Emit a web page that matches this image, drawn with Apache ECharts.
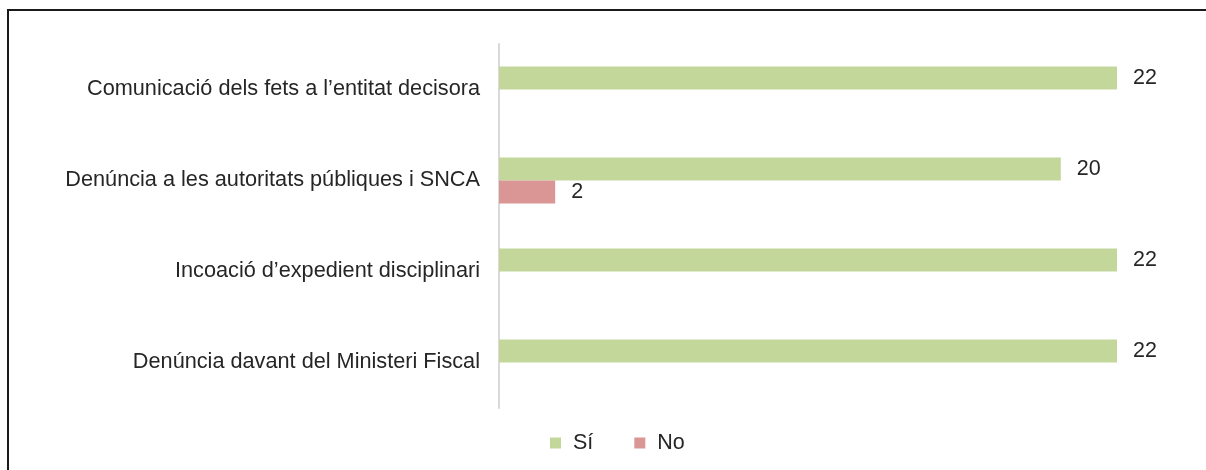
<!DOCTYPE html>
<html>
<head>
<meta charset="utf-8">
<script src="https://cdn.jsdelivr.net/npm/echarts@6/dist/echarts.min.js"></script>
<style>
html,body{margin:0;padding:0;background:#fff;}
#chart{width:1206px;height:470px;}
</style>
</head>
<body>
<div id="chart"></div>
<script>
// dades
var categories = [
	'Comunicació dels fets a l’entitat decisora',
	'Denúncia a les autoritats públiques i SNCA',
	'Incoació d’expedient disciplinari',
	'Denúncia davant del Ministeri Fiscal'
];
var valorsSi = [22, 20, 22, 22];
var valorsNo = [null, 2, null, null];
var seriesNames = ['Sí', 'No'];

var font = 'Liberation Sans, Arial, sans-serif';
var txtColor = '#262626';
var chart = echarts.init(document.getElementById('chart'));

var labelCfg = {
	show: true,
	position: 'right',
	distance: 16,
	color: txtColor,
	fontSize: 21.5,
	fontFamily: font
};

var option = {
	animation: false,
	graphic: [{
		type: 'rect',
		shape: {x: 8, y: 10, width: 1300, height: 600},
		style: {fill: 'none', stroke: '#1a1a1a', lineWidth: 2},
		z: -1
	}],
	grid: {left: 499, right: 89, top: 44, bottom: 62},
	legend: {
		data: seriesNames,
		left: 545,
		top: 427,
		icon: 'rect',
		itemWidth: 11,
		itemHeight: 11,
		itemGap: 41,
		textStyle: {fontSize: 21.5, color: txtColor, fontFamily: font, padding: [0, 0, 0, 7]}
	},
	xAxis: {
		type: 'value',
		min: 0,
		max: 22,
		show: false,
		splitLine: {show: false}
	},
	yAxis: {
		type: 'category',
		data: categories,
		inverse: true,
		axisTick: {show: false},
		axisLine: {lineStyle: {color: '#d9d9d9', width: 2}},
		axisLabel: {margin: 19, fontSize: 21.7, color: txtColor, fontFamily: font}
	},
	series: [{
		name: seriesNames[0],
		type: 'bar',
		data: valorsSi,
		barWidth: 23,
		barGap: '0%',
		itemStyle: {color: '#c4d79b'},
		label: labelCfg
	}, {
		name: seriesNames[1],
		type: 'bar',
		data: valorsNo,
		barWidth: 23,
		barGap: '0%',
		itemStyle: {color: '#da9694'},
		label: labelCfg
	}]
};

chart.setOption(option);
window.onresize = function(){ chart.resize(); };
</script>
</body>
</html>
